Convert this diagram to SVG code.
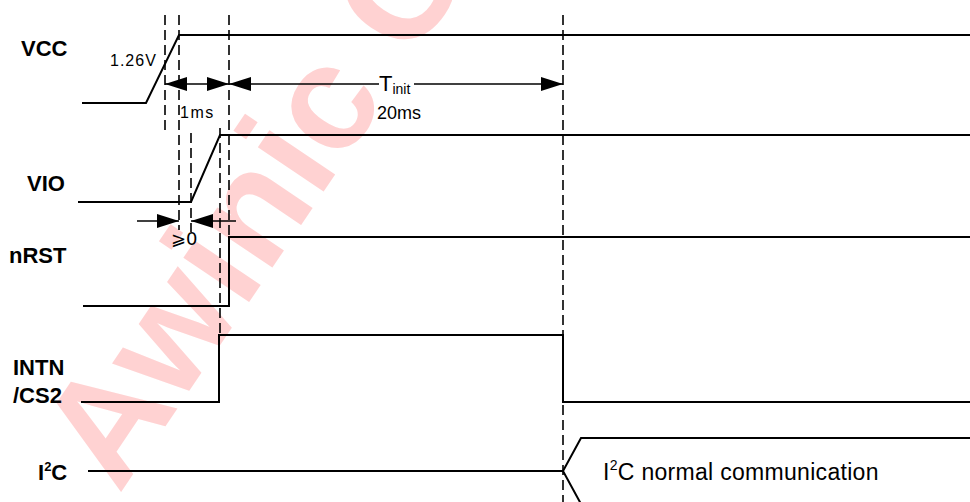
<svg xmlns="http://www.w3.org/2000/svg" width="970" height="502" viewBox="0 0 970 502">
<style>
.sig{fill:none;stroke:#000;stroke-width:2;stroke-linejoin:miter}
.dash{fill:none;stroke:#000;stroke-width:1.6;stroke-dasharray:10 5}
.dim{fill:none;stroke:#000;stroke-width:1.6}
.lbl{font-family:"Liberation Sans",Arial,sans-serif;font-weight:bold;font-size:22px;fill:#000}
.txt{font-family:"Liberation Sans",Arial,sans-serif;font-size:16px;fill:#000}
.wm{font-family:"Liberation Sans",Arial,sans-serif;font-size:150px;font-weight:bold;fill:#FFD2D2}
</style>
<defs>
<marker id="ah" markerUnits="userSpaceOnUse" markerWidth="24" markerHeight="16" refX="22" refY="8" orient="auto-start-reverse">
<path d="M0,1 L22,8 L0,15 Z" fill="#000"/>
</marker>
</defs>
<rect width="970" height="502" fill="#fff"/>
<text class="wm" transform="translate(119,495) rotate(-56)">Awinic C</text>

<g id="connectors">
<line class="dash" x1="165" y1="15" x2="165" y2="134"/>
<line class="dash" x1="179" y1="15" x2="179" y2="230"/>
<line class="dash" x1="191" y1="133" x2="191" y2="232"/>
<line class="dash" x1="220" y1="128" x2="220" y2="335"/>
<line class="dash" x1="229" y1="15" x2="229" y2="237"/>
<line class="dash" x1="563" y1="15" x2="563" y2="502"/>
<line class="dim" x1="165" y1="84" x2="229" y2="84" marker-start="url(#ah)" marker-end="url(#ah)"/>
<line class="dim" x1="229" y1="84" x2="379" y2="84" marker-start="url(#ah)"/>
<line class="dim" x1="414" y1="84" x2="563" y2="84" marker-end="url(#ah)"/>
<line class="dim" x1="137" y1="221" x2="179" y2="221" marker-end="url(#ah)"/>
<line class="dim" x1="236" y1="221" x2="191" y2="221" marker-end="url(#ah)"/>
<text class="txt" x="110" y="66" style="letter-spacing:1px">1.26V</text>
<text class="txt" x="180" y="118" style="letter-spacing:1.5px">1ms</text>
<text class="txt" x="379" y="91" style="font-size:22px">T<tspan style="font-size:14px" dy="3">init</tspan></text>
<text class="txt" x="377" y="119" style="font-size:18px">20ms</text>
<text class="txt" x="171" y="245" style="font-size:18px;font-family:'DejaVu Sans',sans-serif">⩾0</text>
</g>

<g id="vcc">
<text class="lbl" x="21" y="56">VCC</text>
<polyline class="sig" points="82,103 146,103 179,35 970,35"/>
</g>
<g id="vio">
<text class="lbl" x="27" y="191">VIO</text>
<polyline class="sig" points="78,202 191,202 220,135 970,135"/>
</g>
<g id="nrst">
<text class="lbl" x="9" y="263">nRST</text>
<polyline class="sig" points="83,306 229,306 229,237 970,237"/>
</g>
<g id="intn">
<text class="lbl" x="13" y="375">INTN</text>
<text class="lbl" x="13" y="403">/CS2</text>
<polyline class="sig" points="81,402 219,402 219,335 563,335 563,402 970,402"/>
</g>
<g id="i2c">
<text class="lbl" x="38" y="480">I<tspan style="font-size:13px" dy="-9">2</tspan><tspan dy="9">C</tspan></text>
<polyline class="sig" points="88,471 563,471"/>
<polyline class="sig" points="970,438 581,438 563,471 581,504"/>
<text class="txt" x="603" y="480" style="font-size:23px;letter-spacing:0.3px">I<tspan style="font-size:14px" dy="-10">2</tspan><tspan dy="10">C normal communication</tspan></text>
</g>
</svg>
